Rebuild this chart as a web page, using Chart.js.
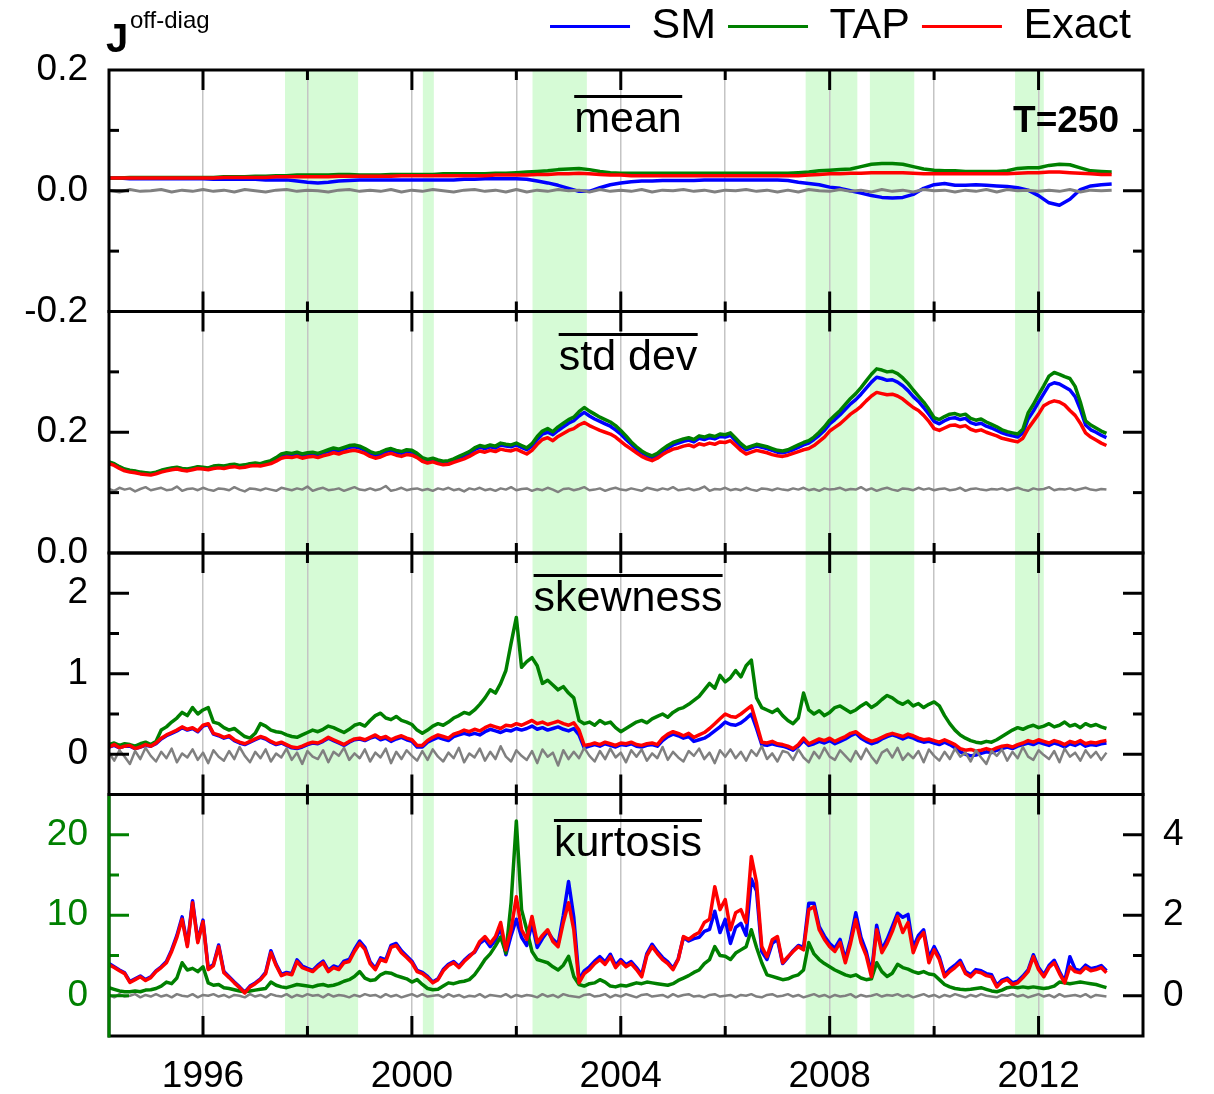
<!DOCTYPE html>
<html>
<head>
<meta charset="utf-8">
<title>J off-diag moments</title>
<script src="https://cdn.jsdelivr.net/npm/chart.js@4.4.1/dist/chart.umd.min.js"></script>
<style>
  html, body { margin: 0; padding: 0; background: #fff; }
  #wrap { position: relative; width: 1214px; height: 1094px; overflow: hidden; }
  #chart { position: absolute; left: 0; top: -7px; }
  .lbl { position: absolute; font-family: "Liberation Sans", Arial, Helvetica, sans-serif; color: #000; white-space: nowrap; line-height: normal; }
  .ttl { font-size: 43px; line-height: 39px; border-top: 3px solid #000; left: 628px; transform: translateX(-50%); }
</style>
</head>
<body>
<div id="wrap">
  <canvas id="chart" width="1214" height="1101"></canvas>
  <div class="lbl" style="left:106px; top:16px; font-size:40px; font-weight:bold;">J</div>
  <div class="lbl" style="left:130px; top:6px; font-size:24px;">off-diag</div>
  <div class="lbl" style="right:95px; top:99px; font-size:37px; font-weight:bold;">T=250</div>
  <div class="lbl ttl" style="top:95px;">mean</div>
  <div class="lbl ttl" style="top:333px;">std dev</div>
  <div class="lbl ttl" style="top:574px;">skewness</div>
  <div class="lbl ttl" style="top:819px;">kurtosis</div>
</div>
<script>
// ---- time grids (decimal years) ----
const yearsFine = Array.from({length: 192}, (_, i) => Math.round((1994.2 + i * 0.1) * 10) / 10);
const yearsCoarse = Array.from({length: 97}, (_, i) => Math.round((1994.2 + i * 0.2) * 10) / 10);

// ---- shaded crisis periods ----
const crisisStart = [1997.57, 2000.21, 2002.31, 2007.54, 2008.77, 2011.55];
const crisisEnd   = [1998.97, 2000.42, 2003.35, 2008.53, 2009.62, 2012.10];

// ---- tick marks (major = labelled, minor = short) ----
const yearMajor = [1996, 2000, 2004, 2008, 2012];
const yearMinor = [1998, 2002, 2006, 2010];
const panelTicks = {
  m: {major: [0], minor: [-0.1, 0.1]},
  s: {major: [0.2], minor: [0.1, 0.3]},
  w: {major: [0, 1, 2], minor: [0.5, 1.5]},
  k: {major: [0, 10, 20], minor: [5, 15]}
};

// ---- panel 1: mean (0.2-year grid) ----
const meanSM = [
  0.021, 0.021, 0.020, 0.020, 0.020,
  0.020, 0.020, 0.020, 0.020, 0.020,
  0.019, 0.019, 0.019, 0.019, 0.019,
  0.018, 0.018, 0.018, 0.016, 0.014,
  0.013, 0.014, 0.016, 0.017, 0.018,
  0.018, 0.018, 0.018, 0.018, 0.018,
  0.018, 0.018, 0.018, 0.018, 0.019,
  0.019, 0.020, 0.020, 0.020, 0.020,
  0.019, 0.016, 0.013, 0.009, 0.004,
  -0.001, -0.001, 0.005, 0.010, 0.013,
  0.015, 0.016, 0.016, 0.017, 0.017,
  0.017, 0.017, 0.018, 0.018, 0.018,
  0.018, 0.018, 0.018, 0.018, 0.018,
  0.017, 0.014, 0.012, 0.010, 0.006,
  0.004, 0.000, -0.004, -0.008, -0.011,
  -0.012, -0.011, -0.006, 0.004, 0.010,
  0.012, 0.009, 0.009, 0.010, 0.009,
  0.008, 0.007, 0.005, 0.001, -0.008,
  -0.020, -0.024, -0.014, 0.002, 0.008,
  0.010, 0.011
];
const meanTAP = [
  0.021, 0.021, 0.022, 0.022, 0.022,
  0.022, 0.022, 0.022, 0.022, 0.022,
  0.022, 0.023, 0.023, 0.023, 0.024,
  0.024, 0.025, 0.025, 0.026, 0.026,
  0.026, 0.026, 0.027, 0.027, 0.026,
  0.026, 0.026, 0.027, 0.027, 0.027,
  0.027, 0.027, 0.028, 0.028, 0.028,
  0.028, 0.028, 0.029, 0.029, 0.030,
  0.031, 0.032, 0.033, 0.035, 0.036,
  0.037, 0.035, 0.032, 0.030, 0.029,
  0.029, 0.029, 0.029, 0.029, 0.029,
  0.029, 0.029, 0.029, 0.029, 0.029,
  0.029, 0.029, 0.029, 0.029, 0.029,
  0.029, 0.030, 0.031, 0.033, 0.034,
  0.035, 0.036, 0.040, 0.044, 0.045,
  0.045, 0.044, 0.040, 0.036, 0.034,
  0.033, 0.033, 0.032, 0.032, 0.032,
  0.032, 0.033, 0.037, 0.038, 0.038,
  0.042, 0.044, 0.043, 0.038, 0.033,
  0.032, 0.031
];
const meanExact = [
  0.021, 0.021, 0.021, 0.021, 0.021,
  0.021, 0.021, 0.021, 0.021, 0.021,
  0.021, 0.022, 0.022, 0.022, 0.022,
  0.022, 0.023, 0.023, 0.023, 0.023,
  0.023, 0.023, 0.024, 0.024, 0.024,
  0.024, 0.024, 0.024, 0.025, 0.025,
  0.025, 0.025, 0.025, 0.025, 0.025,
  0.025, 0.025, 0.026, 0.026, 0.026,
  0.026, 0.027, 0.027, 0.028, 0.028,
  0.029, 0.028, 0.027, 0.026, 0.026,
  0.025, 0.025, 0.025, 0.025, 0.025,
  0.025, 0.025, 0.025, 0.025, 0.025,
  0.025, 0.025, 0.025, 0.025, 0.025,
  0.025, 0.025, 0.026, 0.027, 0.028,
  0.028, 0.029, 0.029, 0.030, 0.030,
  0.030, 0.030, 0.029, 0.028, 0.028,
  0.028, 0.028, 0.028, 0.028, 0.028,
  0.028, 0.028, 0.029, 0.030, 0.030,
  0.031, 0.031, 0.030, 0.029, 0.028,
  0.027, 0.027
];
const meanNull = [
  0.001, -0.002, 0.002, -0.001, 0.000,
  0.002, -0.002, 0.001, -0.001, 0.002,
  -0.001, 0.001, -0.002, 0.002, 0.000,
  -0.002, 0.001, 0.002, -0.001, 0.001,
  0.000, -0.002, 0.001, 0.002, -0.001,
  0.001, -0.001, 0.002, -0.002, 0.001,
  -0.001, 0.002, 0.000, -0.002, 0.001,
  0.002, -0.001, 0.001, -0.002, 0.002,
  -0.002, 0.001, -0.001, 0.002, 0.000,
  0.001, -0.002, 0.002, -0.001, 0.001,
  -0.001, 0.002, -0.002, 0.001, 0.000,
  0.002, -0.001, 0.001, -0.002, 0.001,
  0.000, 0.002, -0.001, 0.001, -0.002,
  0.001, -0.002, 0.002, 0.000, -0.001,
  0.002, -0.001, 0.001, -0.002, 0.002,
  -0.001, 0.001, -0.002, 0.002, 0.000,
  0.001, -0.002, 0.001, -0.001, 0.002,
  -0.002, 0.002, 0.000, 0.001, -0.001,
  0.001, -0.001, 0.002, -0.002, 0.001,
  0.000, 0.001
];

// ---- panel 2: standard deviation (0.1-year grid) ----
const stdSM = [
  0.150, 0.147, 0.142, 0.138, 0.136, 0.135, 0.133, 0.132, 0.131, 0.133,
  0.136, 0.138, 0.140, 0.141, 0.139, 0.138, 0.140, 0.142, 0.141, 0.140,
  0.143, 0.144, 0.143, 0.145, 0.146, 0.144, 0.145, 0.147, 0.148, 0.147,
  0.149, 0.151, 0.156, 0.161, 0.163, 0.162, 0.164, 0.161, 0.163, 0.164,
  0.163, 0.166, 0.168, 0.171, 0.169, 0.172, 0.175, 0.176, 0.174, 0.170,
  0.165, 0.162, 0.164, 0.168, 0.170, 0.167, 0.165, 0.168, 0.167, 0.162,
  0.156, 0.153, 0.155, 0.152, 0.150, 0.151, 0.154, 0.158, 0.161, 0.165,
  0.171, 0.175, 0.173, 0.176, 0.174, 0.179, 0.177, 0.176, 0.179, 0.175,
  0.171, 0.177, 0.188, 0.197, 0.200, 0.196, 0.203, 0.209, 0.215, 0.219,
  0.227, 0.233, 0.227, 0.222, 0.218, 0.214, 0.210, 0.204, 0.197, 0.188,
  0.180, 0.172, 0.166, 0.161, 0.158, 0.162, 0.169, 0.174, 0.179, 0.182,
  0.185, 0.187, 0.184, 0.190, 0.188, 0.191, 0.189, 0.193, 0.192, 0.195,
  0.186, 0.177, 0.171, 0.174, 0.177, 0.175, 0.173, 0.170, 0.167, 0.166,
  0.168, 0.171, 0.175, 0.179, 0.182, 0.188, 0.195, 0.203, 0.214, 0.221,
  0.229, 0.238, 0.247, 0.254, 0.263, 0.273, 0.283, 0.291, 0.289, 0.286,
  0.287, 0.283, 0.277, 0.269, 0.259, 0.251, 0.241, 0.230, 0.218, 0.214,
  0.219, 0.223, 0.224, 0.221, 0.223, 0.216, 0.213, 0.215, 0.210, 0.207,
  0.203, 0.199, 0.196, 0.194, 0.192, 0.199, 0.222, 0.235, 0.250, 0.264,
  0.278, 0.282, 0.280, 0.275, 0.270, 0.259, 0.238, 0.212, 0.204, 0.200,
  0.195, 0.191
];
const stdTAP = [
  0.151, 0.148, 0.143, 0.139, 0.137, 0.136, 0.134, 0.133, 0.132, 0.134,
  0.137, 0.139, 0.141, 0.142, 0.140, 0.139, 0.141, 0.143, 0.142, 0.141,
  0.144, 0.145, 0.144, 0.146, 0.147, 0.145, 0.146, 0.148, 0.149, 0.148,
  0.151, 0.153, 0.158, 0.164, 0.166, 0.165, 0.167, 0.164, 0.166, 0.167,
  0.165, 0.168, 0.171, 0.174, 0.172, 0.175, 0.178, 0.179, 0.177, 0.173,
  0.168, 0.165, 0.167, 0.171, 0.173, 0.170, 0.168, 0.171, 0.170, 0.165,
  0.158, 0.155, 0.157, 0.154, 0.152, 0.153, 0.156, 0.160, 0.164, 0.168,
  0.174, 0.178, 0.176, 0.179, 0.177, 0.182, 0.180, 0.179, 0.182, 0.178,
  0.174, 0.181, 0.193, 0.202, 0.206, 0.201, 0.209, 0.215, 0.221, 0.225,
  0.234, 0.241, 0.235, 0.230, 0.225, 0.221, 0.217, 0.211, 0.203, 0.194,
  0.184, 0.176, 0.169, 0.164, 0.161, 0.165, 0.172, 0.178, 0.183, 0.186,
  0.189, 0.191, 0.188, 0.194, 0.192, 0.195, 0.193, 0.197, 0.196, 0.199,
  0.190, 0.181, 0.174, 0.177, 0.180, 0.178, 0.176, 0.173, 0.170, 0.169,
  0.171, 0.175, 0.179, 0.183, 0.186, 0.192, 0.200, 0.209, 0.220, 0.228,
  0.236, 0.246, 0.256, 0.264, 0.274, 0.285, 0.296, 0.305, 0.303, 0.300,
  0.301, 0.297, 0.290, 0.281, 0.270, 0.260, 0.250, 0.238, 0.224, 0.221,
  0.226, 0.230, 0.231, 0.228, 0.230, 0.223, 0.220, 0.222, 0.217, 0.213,
  0.209, 0.204, 0.201, 0.199, 0.197, 0.205, 0.232, 0.246, 0.262, 0.277,
  0.293, 0.299, 0.296, 0.292, 0.289, 0.276, 0.250, 0.219, 0.212, 0.207,
  0.202, 0.198
];
const stdExact = [
  0.148, 0.145, 0.140, 0.136, 0.134, 0.133, 0.131, 0.130, 0.129, 0.131,
  0.134, 0.136, 0.138, 0.139, 0.137, 0.136, 0.138, 0.140, 0.139, 0.138,
  0.140, 0.141, 0.140, 0.142, 0.143, 0.141, 0.142, 0.144, 0.145, 0.144,
  0.146, 0.148, 0.152, 0.157, 0.159, 0.158, 0.160, 0.157, 0.159, 0.160,
  0.158, 0.161, 0.163, 0.166, 0.164, 0.167, 0.169, 0.170, 0.168, 0.165,
  0.160, 0.157, 0.159, 0.163, 0.165, 0.162, 0.160, 0.163, 0.162, 0.158,
  0.152, 0.149, 0.151, 0.148, 0.146, 0.147, 0.150, 0.153, 0.156, 0.160,
  0.165, 0.169, 0.167, 0.170, 0.168, 0.172, 0.170, 0.169, 0.172, 0.168,
  0.164, 0.170, 0.180, 0.188, 0.191, 0.186, 0.193, 0.198, 0.203, 0.206,
  0.212, 0.216, 0.211, 0.207, 0.203, 0.200, 0.197, 0.192, 0.185, 0.178,
  0.172, 0.166, 0.160, 0.156, 0.153, 0.157, 0.163, 0.168, 0.172, 0.174,
  0.177, 0.179, 0.176, 0.181, 0.179, 0.182, 0.180, 0.184, 0.183, 0.186,
  0.178, 0.170, 0.164, 0.167, 0.170, 0.168, 0.166, 0.163, 0.161, 0.160,
  0.162, 0.165, 0.168, 0.171, 0.173, 0.178, 0.185, 0.192, 0.202, 0.208,
  0.214, 0.222, 0.230, 0.236, 0.243, 0.252, 0.260, 0.266, 0.264, 0.262,
  0.263, 0.260, 0.255, 0.248, 0.241, 0.236, 0.228, 0.218, 0.206, 0.203,
  0.207, 0.211, 0.212, 0.209, 0.211, 0.205, 0.202, 0.204, 0.200, 0.197,
  0.194, 0.190, 0.188, 0.186, 0.184, 0.190, 0.206, 0.218, 0.230, 0.244,
  0.249, 0.252, 0.250, 0.245, 0.236, 0.228, 0.215, 0.199, 0.192, 0.187,
  0.182, 0.178
];
const stdNull = [
  0.106, 0.103, 0.108, 0.105, 0.107, 0.102, 0.106, 0.109, 0.104, 0.106,
  0.108, 0.104, 0.105, 0.110, 0.103, 0.106, 0.107, 0.104, 0.108, 0.105,
  0.103, 0.107, 0.106, 0.104, 0.109, 0.105, 0.102, 0.107, 0.106, 0.104,
  0.107, 0.105, 0.103, 0.108, 0.106, 0.104, 0.107, 0.105, 0.110, 0.103,
  0.106, 0.108, 0.104, 0.105, 0.107, 0.103, 0.106, 0.109, 0.105, 0.104,
  0.107, 0.104, 0.106, 0.111, 0.103, 0.105, 0.108, 0.104, 0.106, 0.107,
  0.104, 0.106, 0.103, 0.107, 0.105, 0.108, 0.104, 0.106, 0.102, 0.107,
  0.105, 0.108, 0.104, 0.106, 0.103, 0.107, 0.105, 0.109, 0.104, 0.106,
  0.107, 0.103, 0.106, 0.104, 0.108, 0.105, 0.101, 0.106, 0.107, 0.104,
  0.106, 0.109, 0.104, 0.105, 0.107, 0.103, 0.106, 0.108, 0.105, 0.104,
  0.107, 0.105, 0.103, 0.108, 0.106, 0.104, 0.107, 0.105, 0.109, 0.104,
  0.105, 0.107, 0.104, 0.106, 0.110, 0.103, 0.106, 0.105, 0.108, 0.104,
  0.106, 0.104, 0.108, 0.105, 0.103, 0.107, 0.106, 0.104, 0.107, 0.105,
  0.104, 0.107, 0.105, 0.108, 0.104, 0.106, 0.103, 0.107, 0.105, 0.106,
  0.108, 0.104, 0.106, 0.105, 0.109, 0.104, 0.107, 0.103, 0.106, 0.108,
  0.105, 0.103, 0.107, 0.106, 0.104, 0.108, 0.105, 0.107, 0.104, 0.106,
  0.107, 0.104, 0.105, 0.108, 0.103, 0.106, 0.107, 0.105, 0.104, 0.106,
  0.105, 0.107, 0.104, 0.106, 0.108, 0.105, 0.103, 0.107, 0.105, 0.106,
  0.109, 0.104, 0.106, 0.105, 0.107, 0.104, 0.106, 0.108, 0.105, 0.104,
  0.106, 0.105
];

// ---- panel 3: skewness (0.1-year grid) ----
const skewSM = [
  0.09, 0.11, 0.08, 0.10, 0.10, 0.07, 0.09, 0.11, 0.10, 0.13,
  0.19, 0.23, 0.26, 0.29, 0.33, 0.30, 0.32, 0.28, 0.35, 0.37,
  0.25, 0.23, 0.20, 0.22, 0.17, 0.14, 0.12, 0.15, 0.18, 0.21,
  0.19, 0.15, 0.12, 0.14, 0.11, 0.08, 0.07, 0.09, 0.12, 0.14,
  0.13, 0.16, 0.20, 0.17, 0.14, 0.11, 0.15, 0.18, 0.19, 0.17,
  0.20, 0.22, 0.18, 0.20, 0.16, 0.19, 0.21, 0.18, 0.16, 0.09,
  0.09, 0.15, 0.18, 0.21, 0.19, 0.17, 0.22, 0.24, 0.26, 0.24,
  0.26, 0.24, 0.28, 0.31, 0.29, 0.27, 0.30, 0.29, 0.32, 0.30,
  0.32, 0.35, 0.31, 0.33, 0.30, 0.32, 0.34, 0.31, 0.29, 0.32,
  0.24, 0.08, 0.10, 0.12, 0.10, 0.13, 0.11, 0.09, 0.12, 0.11,
  0.13, 0.10, 0.09, 0.11, 0.12, 0.10, 0.17, 0.22, 0.25, 0.23,
  0.20, 0.22, 0.16, 0.18, 0.20, 0.24, 0.29, 0.34, 0.40, 0.37,
  0.36, 0.39, 0.44, 0.50, 0.32, 0.12, 0.11, 0.13, 0.11, 0.10,
  0.08, 0.05, 0.10, 0.17, 0.11, 0.13, 0.16, 0.14, 0.17, 0.13,
  0.16, 0.19, 0.23, 0.26, 0.20, 0.16, 0.13, 0.15, 0.19, 0.22,
  0.24, 0.22, 0.19, 0.22, 0.20, 0.17, 0.15, 0.16, 0.14, 0.12,
  0.15, 0.12, 0.08, 0.03, 0.00, -0.02, -0.01, 0.01, 0.03, 0.02,
  0.05, 0.07, 0.09, 0.07, 0.10, 0.12, 0.14, 0.12, 0.15, 0.13,
  0.11, 0.14, 0.12, 0.09, 0.13, 0.11, 0.14, 0.10, 0.12, 0.11,
  0.13, 0.14
];
const skewTAP = [
  0.12, 0.14, 0.11, 0.13, 0.12, 0.10, 0.13, 0.15, 0.12, 0.16,
  0.30, 0.34, 0.40, 0.45, 0.52, 0.48, 0.58, 0.50, 0.55, 0.58,
  0.40, 0.38, 0.33, 0.30, 0.32, 0.27, 0.22, 0.20, 0.26, 0.38,
  0.35, 0.30, 0.28, 0.27, 0.24, 0.22, 0.21, 0.24, 0.27, 0.30,
  0.28, 0.31, 0.35, 0.33, 0.30, 0.27, 0.31, 0.36, 0.38, 0.35,
  0.42, 0.48, 0.51, 0.45, 0.43, 0.47, 0.42, 0.40, 0.37, 0.30,
  0.26, 0.30, 0.35, 0.38, 0.36, 0.40, 0.45, 0.48, 0.52, 0.50,
  0.55, 0.62, 0.70, 0.80, 0.76, 0.88, 1.04, 1.38, 1.70, 1.08,
  1.15, 1.20, 1.10, 0.88, 0.92, 0.86, 0.80, 0.84, 0.76, 0.70,
  0.42, 0.38, 0.40, 0.36, 0.42, 0.38, 0.40, 0.33, 0.28, 0.32,
  0.36, 0.40, 0.42, 0.39, 0.44, 0.47, 0.50, 0.46, 0.52, 0.56,
  0.58, 0.62, 0.67, 0.72, 0.80, 0.88, 0.82, 0.98, 0.90, 0.95,
  1.04, 0.96, 1.10, 1.17, 0.70, 0.58, 0.55, 0.52, 0.56, 0.48,
  0.42, 0.38, 0.45, 0.76, 0.55, 0.50, 0.54, 0.48, 0.52, 0.58,
  0.60, 0.56, 0.52, 0.55, 0.60, 0.64, 0.58, 0.62, 0.68, 0.73,
  0.70, 0.65, 0.62, 0.66, 0.60, 0.63, 0.58, 0.62, 0.65, 0.60,
  0.48, 0.38, 0.30, 0.24, 0.20, 0.17, 0.15, 0.14, 0.16, 0.15,
  0.18, 0.22, 0.26, 0.30, 0.33, 0.31, 0.34, 0.36, 0.33, 0.35,
  0.38, 0.34, 0.36, 0.40, 0.35, 0.37, 0.33, 0.38, 0.35, 0.37,
  0.34, 0.32
];
const skewExact = [
  0.09, 0.12, 0.08, 0.10, 0.11, 0.07, 0.09, 0.12, 0.10, 0.14,
  0.20, 0.24, 0.27, 0.30, 0.34, 0.31, 0.33, 0.29, 0.36, 0.38,
  0.26, 0.24, 0.21, 0.23, 0.18, 0.15, 0.13, 0.16, 0.19, 0.22,
  0.20, 0.16, 0.13, 0.15, 0.12, 0.09, 0.08, 0.10, 0.13, 0.15,
  0.14, 0.17, 0.21, 0.18, 0.15, 0.12, 0.16, 0.19, 0.20, 0.18,
  0.21, 0.24, 0.20, 0.22, 0.18, 0.21, 0.23, 0.20, 0.18, 0.11,
  0.11, 0.17, 0.21, 0.24, 0.22, 0.20, 0.25, 0.27, 0.30, 0.28,
  0.31, 0.29, 0.33, 0.36, 0.34, 0.32, 0.36, 0.35, 0.38, 0.36,
  0.39, 0.42, 0.38, 0.40, 0.37, 0.39, 0.41, 0.38, 0.36, 0.39,
  0.30, 0.11, 0.12, 0.14, 0.12, 0.15, 0.13, 0.11, 0.14, 0.13,
  0.15, 0.12, 0.11, 0.13, 0.14, 0.12, 0.20, 0.25, 0.28, 0.26,
  0.23, 0.26, 0.21, 0.24, 0.27, 0.32, 0.38, 0.44, 0.50, 0.47,
  0.46, 0.50, 0.55, 0.60, 0.38, 0.15, 0.14, 0.16, 0.13, 0.12,
  0.10, 0.07, 0.12, 0.20, 0.13, 0.16, 0.19, 0.17, 0.20, 0.16,
  0.19, 0.22, 0.26, 0.28, 0.23, 0.19, 0.16, 0.18, 0.21, 0.24,
  0.26, 0.24, 0.22, 0.25, 0.23, 0.20, 0.18, 0.19, 0.17, 0.15,
  0.18, 0.15, 0.12, 0.07, 0.05, 0.06, 0.04, 0.05, 0.07, 0.05,
  0.08, 0.10, 0.11, 0.09, 0.12, 0.14, 0.17, 0.15, 0.18, 0.16,
  0.14, 0.17, 0.15, 0.12, 0.16, 0.14, 0.17, 0.13, 0.15, 0.14,
  0.16, 0.17
];
const skewNull = [
  0.02, -0.08, 0.05, -0.03, -0.12, 0.04, -0.06, 0.08, -0.02, -0.09,
  0.03, -0.05, 0.07, -0.10, 0.01, -0.04, 0.06, -0.07, 0.02, -0.11,
  0.05, -0.03, -0.08, 0.04, -0.06, 0.09, -0.02, -0.10, 0.03, -0.05,
  0.06, -0.09, 0.01, -0.04, 0.07, -0.07, 0.02, -0.12, 0.04, -0.03,
  -0.06, 0.05, -0.10, 0.03, -0.02, 0.08, -0.07, 0.01, -0.05, 0.06,
  -0.09, 0.02, -0.04, 0.07, -0.11, 0.03, -0.06, 0.05, -0.02, -0.08,
  0.04, -0.07, 0.06, -0.03, -0.09, 0.02, -0.05, 0.08, -0.10, 0.01,
  -0.04, 0.07, -0.08, 0.03, -0.06, 0.10, -0.03, -0.09, 0.05, -0.02,
  -0.07, 0.04, -0.11, 0.06, -0.03, 0.02, -0.14, 0.05, -0.06, 0.03,
  -0.05, 0.08, -0.02, -0.09, 0.04, -0.06, 0.07, -0.04, 0.02, -0.10,
  0.05, -0.03, 0.06, -0.08, 0.01, -0.05, 0.09, -0.07, 0.03, -0.04,
  -0.09, 0.04, -0.02, 0.07, -0.06, 0.02, -0.11, 0.05, -0.03, 0.06,
  -0.05, 0.03, -0.08, 0.05, -0.02, 0.10, -0.06, 0.01, -0.09, 0.04,
  0.02, -0.07, 0.06, -0.04, -0.10, 0.03, -0.05, 0.08, -0.03, -0.07,
  0.05, -0.02, -0.09, 0.04, -0.06, 0.07, -0.03, -0.11, 0.02, 0.06,
  -0.04, 0.08, -0.07, 0.01, -0.05, 0.04, -0.10, 0.06, -0.02, -0.08,
  0.03, -0.06, 0.07, -0.03, 0.02, -0.09, 0.05, -0.04, -0.12, 0.04,
  -0.02, 0.06, -0.08, 0.03, -0.05, 0.09, -0.03, -0.07, 0.05, -0.01,
  -0.06, 0.04, -0.10, 0.07, -0.03, 0.02, -0.08, 0.05, -0.04, 0.03,
  -0.07, 0.02
];

// ---- panel 4: kurtosis (0.1-year grid); TAP on the left axis, SM/Exact on the right axis ----
const kurtSM = [
  0.80, 0.72, 0.64, 0.57, 0.35, 0.42, 0.49, 0.40, 0.47, 0.62,
  0.72, 0.85, 1.14, 1.50, 1.96, 1.26, 2.36, 1.36, 1.88, 0.68,
  0.78, 1.26, 0.60, 0.47, 0.34, 0.22, 0.09, 0.24, 0.32, 0.42,
  0.58, 1.12, 0.78, 0.53, 0.58, 0.55, 0.89, 0.74, 0.68, 0.63,
  0.76, 0.86, 0.63, 0.74, 0.69, 0.86, 0.90, 1.15, 1.36, 1.20,
  0.84, 0.68, 0.94, 0.89, 1.25, 1.30, 1.12, 0.99, 0.86, 0.63,
  0.58, 0.48, 0.34, 0.42, 0.65, 0.78, 0.85, 0.73, 0.88, 1.00,
  1.08, 1.30, 1.40, 1.22, 1.38, 1.70, 1.02, 1.50, 1.90, 1.45,
  1.25, 1.80, 1.20, 1.42, 1.60, 1.40, 1.28, 2.00, 2.84, 1.95,
  0.40, 0.62, 0.72, 0.86, 0.97, 0.84, 1.03, 0.76, 0.90, 0.77,
  0.85, 0.70, 0.52, 1.05, 1.28, 1.10, 0.95, 0.84, 0.68, 0.92,
  1.45, 1.36, 1.42, 1.45, 1.60, 1.65, 2.10, 1.57, 1.90, 1.30,
  1.70, 1.80, 1.50, 2.90, 2.60, 1.10, 0.90, 1.30, 1.40, 0.80,
  0.95, 1.12, 1.25, 1.20, 2.30, 2.30, 1.72, 1.48, 1.30, 1.18,
  1.40, 0.90, 1.40, 2.06, 1.45, 1.10, 0.55, 1.75, 1.15, 1.40,
  1.72, 2.05, 1.95, 2.02, 1.20, 1.50, 1.64, 0.95, 1.22, 0.97,
  0.52, 0.66, 0.76, 0.88, 0.60, 0.52, 0.65, 0.62, 0.55, 0.52,
  0.26, 0.39, 0.44, 0.32, 0.36, 0.49, 0.64, 1.02, 0.70, 0.52,
  0.75, 0.88, 0.60, 0.36, 0.97, 0.66, 0.62, 0.76, 0.67, 0.70,
  0.75, 0.62
];
const kurtTAP = [
  1.0, 0.8, 0.6, 0.5, 0.5, 0.6, 0.5, 0.7, 0.75, 0.9,
  1.2, 1.7, 1.5, 2.2, 4.1, 3.2, 3.4, 3.0, 3.6, 1.6,
  1.3, 1.4, 1.0, 0.9, 0.75, 0.6, 0.5, 0.6, 0.7, 0.8,
  0.9, 1.7, 1.3, 1.1, 1.0, 1.2, 1.4, 1.3, 1.2, 1.1,
  1.3, 1.4, 1.2, 1.3, 1.5, 1.8, 2.0, 2.4, 3.0, 2.2,
  1.9, 2.0, 2.6, 2.9, 2.8, 2.5, 2.3, 2.1, 1.7, 2.0,
  1.4, 0.9, 0.75, 0.8, 1.2, 1.6, 1.5, 1.7, 1.8, 2.0,
  2.6, 3.5, 4.5, 5.2, 6.2, 7.3, 5.3, 11.6, 21.7, 10.7,
  8.2, 5.5, 4.5, 4.3, 4.1, 3.6, 3.2, 3.8, 4.9, 2.4,
  1.4, 1.2, 1.5, 1.6, 2.0, 1.7, 1.2, 1.1, 1.3, 1.2,
  1.4, 1.6, 1.5, 1.7, 1.6, 1.5, 1.4, 1.3, 1.5, 1.9,
  2.2, 2.5, 2.9, 3.2, 4.0, 4.5, 6.1, 5.0, 4.9, 4.5,
  5.3, 5.7, 6.1, 8.2, 6.0, 4.1, 2.6, 2.4, 2.2, 2.0,
  2.1, 2.4, 2.6, 3.2, 6.6, 5.2, 4.5, 4.0, 3.6, 3.2,
  2.9, 2.6, 2.4, 2.6, 2.2, 2.0, 2.1, 4.1, 3.0, 2.4,
  2.8, 3.9, 3.5, 3.3, 3.0, 2.8, 3.0, 2.7, 2.6, 2.0,
  1.4, 1.1, 0.9, 0.8, 0.75, 0.8, 0.9, 1.0, 0.8, 0.6,
  0.5, 0.7, 1.0, 1.1, 1.0, 1.1, 1.0, 1.1, 1.0, 0.9,
  1.0, 1.2, 1.7, 1.6, 1.5, 1.6, 1.7, 1.6, 1.5, 1.4,
  1.2, 1.0
];
const kurtExact = [
  0.77, 0.70, 0.62, 0.55, 0.33, 0.40, 0.47, 0.38, 0.45, 0.60,
  0.70, 0.82, 1.10, 1.45, 1.90, 1.22, 2.31, 1.32, 1.84, 0.65,
  0.75, 1.22, 0.57, 0.45, 0.32, 0.20, 0.07, 0.22, 0.30, 0.40,
  0.55, 1.07, 0.75, 0.50, 0.55, 0.52, 0.85, 0.70, 0.65, 0.60,
  0.72, 0.82, 0.60, 0.70, 0.65, 0.82, 0.85, 1.10, 1.30, 1.15,
  0.80, 0.65, 0.90, 0.85, 1.20, 1.25, 1.07, 0.95, 0.82, 0.60,
  0.55, 0.45, 0.32, 0.40, 0.62, 0.75, 0.82, 0.70, 0.85, 0.97,
  1.10, 1.35, 1.47, 1.30, 1.47, 1.82, 1.14, 1.64, 2.46, 1.64,
  1.40, 1.97, 1.32, 1.50, 1.64, 1.35, 1.22, 1.82, 2.31, 1.64,
  0.32, 0.55, 0.65, 0.80, 0.90, 0.78, 0.97, 0.70, 0.85, 0.72,
  0.80, 0.65, 0.47, 1.00, 1.22, 1.05, 0.90, 0.80, 0.65, 0.90,
  1.47, 1.40, 1.50, 1.57, 1.82, 1.90, 2.71, 2.14, 2.39, 1.64,
  2.06, 2.14, 1.82, 3.46, 2.81, 1.22, 0.97, 1.39, 1.47, 0.82,
  0.97, 1.10, 1.22, 1.14, 2.14, 2.21, 1.64, 1.40, 1.22, 1.10,
  1.32, 0.82, 1.30, 1.89, 1.32, 1.00, 0.47, 1.64, 1.07, 1.30,
  1.60, 1.97, 1.57, 1.82, 1.07, 1.40, 1.57, 0.82, 1.14, 0.90,
  0.47, 0.60, 0.70, 0.82, 0.55, 0.47, 0.60, 0.57, 0.50, 0.47,
  0.22, 0.35, 0.40, 0.28, 0.32, 0.45, 0.60, 0.97, 0.65, 0.47,
  0.70, 0.82, 0.55, 0.32, 0.72, 0.60, 0.57, 0.70, 0.62, 0.65,
  0.70, 0.57
];
const kurtNull = [
  0.1, -0.2, 0.2, -0.1, 0.0, 0.2, -0.2, 0.1, -0.1, 0.2,
  -0.1, 0.1, -0.2, 0.2, 0.0, -0.1, 0.2, -0.2, 0.1, 0.0,
  0.2, -0.1, 0.1, -0.2, 0.1, 0.0, -0.2, 0.2, -0.1, 0.1,
  -0.2, 0.2, 0.0, -0.1, 0.2, -0.2, 0.1, -0.1, 0.2, 0.0,
  0.1, -0.2, 0.2, -0.1, 0.1, 0.0, -0.2, 0.1, -0.1, 0.2,
  0.0, 0.1, -0.2, 0.2, -0.1, 0.1, -0.2, 0.0, 0.2, -0.1,
  0.2, -0.1, 0.0, 0.1, -0.2, 0.2, -0.1, 0.1, -0.2, 0.0,
  -0.1, 0.2, -0.2, 0.1, 0.0, -0.1, 0.2, -0.2, 0.1, -0.1,
  0.1, 0.0, -0.2, 0.2, -0.1, 0.1, -0.2, 0.2, 0.0, -0.1,
  -0.2, 0.1, 0.2, -0.1, 0.0, 0.2, -0.2, 0.1, -0.1, 0.2,
  0.0, -0.2, 0.1, 0.2, -0.1, 0.0, 0.1, -0.2, 0.2, -0.1,
  0.1, 0.2, -0.1, 0.0, -0.2, 0.1, 0.2, -0.1, 0.0, 0.1,
  -0.2, 0.1, 0.0, 0.2, -0.1, -0.2, 0.1, 0.2, -0.1, 0.0,
  0.2, -0.1, 0.1, -0.2, 0.0, 0.2, -0.1, 0.1, -0.2, 0.1,
  -0.1, 0.0, 0.2, -0.2, 0.1, -0.1, 0.0, 0.2, -0.1, 0.1,
  0.0, 0.2, -0.1, 0.1, -0.2, 0.0, 0.2, -0.1, 0.1, -0.2,
  0.1, -0.1, 0.2, 0.0, -0.2, 0.1, -0.1, 0.2, 0.0, -0.1,
  -0.2, 0.1, 0.0, 0.2, -0.1, 0.1, -0.2, 0.0, 0.2, -0.1,
  0.1, -0.2, 0.2, -0.1, 0.0, 0.1, -0.1, 0.2, -0.2, 0.1,
  0.0, -0.1
];

// ---- styling ----
const FONT = '"Liberation Sans", Arial, Helvetica, sans-serif';
const BLUE = '#0000ff', GREEN = '#008000', RED = '#ff0000', GRAY = '#808080';
const SHADE = '#d6fbd6';
const GRID = '#c4c4c4';
const LINE_W = 3.5;

Chart.defaults.font.family = FONT;
Chart.defaults.color = '#000';

const toPoints = (t, v) => v.map((y, i) => ({x: t[i], y}));
const isStep = (v, s) => Math.abs(v / s - Math.round(v / s)) < 1e-6;

function series(label, color, width, axis, t, values, order) {
  return {
    label, data: toPoints(t, values), yAxisID: axis, xAxisID: 'x',
    borderColor: color, backgroundColor: color, borderWidth: width,
    pointRadius: 0, pointHoverRadius: 0, tension: 0, order,
    borderJoinStyle: 'round'
  };
}

const datasets = [
  series('SM', BLUE, LINE_W, 'm', yearsCoarse, meanSM, 3),
  series('TAP', GREEN, LINE_W, 'm', yearsCoarse, meanTAP, 2),
  series('Exact', RED, LINE_W, 'm', yearsCoarse, meanExact, 1),
  series('null mean', GRAY, 3, 'm', yearsCoarse, meanNull, 0),

  series('SM std dev', BLUE, LINE_W, 's', yearsFine, stdSM, 3),
  series('TAP std dev', GREEN, LINE_W, 's', yearsFine, stdTAP, 2),
  series('Exact std dev', RED, LINE_W, 's', yearsFine, stdExact, 1),
  series('null std dev', GRAY, 2.5, 's', yearsFine, stdNull, 0),

  series('SM skewness', BLUE, LINE_W, 'w', yearsFine, skewSM, 3),
  series('TAP skewness', GREEN, LINE_W, 'w', yearsFine, skewTAP, 2),
  series('Exact skewness', RED, LINE_W, 'w', yearsFine, skewExact, 1),
  series('null skewness', GRAY, 2.5, 'w', yearsFine, skewNull, 0),

  series('SM kurtosis', BLUE, LINE_W, 'r4', yearsFine, kurtSM, 3),
  series('TAP kurtosis', GREEN, LINE_W, 'k', yearsFine, kurtTAP, 2),
  series('Exact kurtosis', RED, LINE_W, 'r4', yearsFine, kurtExact, 1),
  series('null kurtosis', GRAY, 2.5, 'k', yearsFine, kurtNull, 0)
];

const tickFont = {size: 37, family: FONT};
const noGrid = {display: false, drawTicks: false};

function leftPanel(weight, min, max, step, label, color) {
  return {
    type: 'linear', position: 'left', stack: 'L', stackWeight: 1, weight,
    min, max,
    ticks: {stepSize: step, maxTicksLimit: 50, autoSkip: false, padding: 21, font: tickFont, color: color || '#000', callback: label},
    grid: noGrid, border: {display: false},
    afterFit: s => { s.width = 109; }
  };
}
function rightPanel(weight, min, max, step, label) {
  return {
    type: 'linear', position: 'right', stack: 'R', stackWeight: 1, weight,
    min, max,
    ticks: label ? {stepSize: step, maxTicksLimit: 50, autoSkip: false, padding: 20, font: tickFont, color: '#000', callback: label}
                 : {display: false},
    grid: noGrid, border: {display: false},
    afterFit: s => { s.width = 71; }
  };
}

const panelIds = ['m', 's', 'w', 'k'];

// shading behind everything; frames and inward tick marks over the plot
const panelFrames = {
  id: 'panelFrames',
  beforeDraw(chart) {
    const {ctx, chartArea: a, scales: {x}} = chart;
    ctx.save();
    ctx.fillStyle = SHADE;
    crisisStart.forEach((s, i) => {
      const x0 = x.getPixelForValue(s), x1 = x.getPixelForValue(crisisEnd[i]);
      ctx.fillRect(x0, a.top, x1 - x0, a.bottom - a.top);
    });
    ctx.restore();
  },
  afterDatasetsDraw(chart) {
    const {ctx, chartArea: a, scales} = chart;
    const x = scales.x;
    const seg = (x0, y0, x1, y1) => { ctx.beginPath(); ctx.moveTo(x0, y0); ctx.lineTo(x1, y1); ctx.stroke(); };
    ctx.save();
    ctx.lineWidth = 3;
    ctx.lineCap = 'butt';
    panelIds.forEach(id => {
      const sc = scales[id];
      const marks = panelTicks[id];
      [[marks.major, 20], [marks.minor, 10]].forEach(([vals, len]) => {
        vals.forEach(v => {
          const py = sc.getPixelForValue(v);
          ctx.strokeStyle = id === 'k' ? GREEN : '#000';
          seg(a.left, py, a.left + len, py);
          ctx.strokeStyle = '#000';
          seg(a.right, py, a.right - len, py);
        });
      });
      ctx.strokeStyle = '#000';
      [[yearMajor, 20], [yearMinor, 10]].forEach(([vals, len]) => {
        vals.forEach(v => {
          const px = x.getPixelForValue(v);
          seg(px, sc.top, px, sc.top + len);
          seg(px, sc.bottom, px, sc.bottom - len);
        });
      });
      ctx.strokeRect(a.left, sc.top, a.right - a.left, sc.bottom - sc.top);
    });
    const k = scales.k;
    ctx.strokeStyle = GREEN;
    seg(a.left, k.top + 1.5, a.left, k.bottom + 1.5);
    ctx.restore();
  }
};

new Chart(document.getElementById('chart'), {
  type: 'line',
  data: {datasets},
  plugins: [panelFrames],
  options: {
    responsive: false,
    animation: false,
    devicePixelRatio: 1,
    events: [],
    layout: {padding: 0},
    plugins: {
      tooltip: {enabled: false},
      legend: {
        display: true, position: 'top', align: 'end', fullSize: false,
        labels: {
          font: {size: 43, family: FONT}, color: '#000',
          boxWidth: 80, boxHeight: 3, padding: 12,
          generateLabels: chart => Chart.defaults.plugins.legend.labels.generateLabels(chart)
            .filter(item => item.datasetIndex < 3)
            .sort((p, q) => p.datasetIndex - q.datasetIndex)
            .map(item => Object.assign(item, {lineWidth: 0}))
        }
      }
    },
    scales: {
      x: {
        type: 'linear', position: 'bottom', min: 1994.2, max: 2014,
        ticks: {
          stepSize: 2, maxTicksLimit: 50, autoSkip: false, includeBounds: false,
          maxRotation: 0, minRotation: 0,
          padding: 19, font: tickFont, color: '#000',
          callback: v => (v % 4 === 0 ? String(v) : '')
        },
        grid: {
          drawTicks: false, lineWidth: 1.5,
          color: c => (c.tick && c.tick.value % 2 === 0 && c.tick.value > 1995 && c.tick.value < 2013.5) ? GRID : 'rgba(0,0,0,0)'
        },
        border: {display: false},
        afterFit: s => { s.height = 58; }
      },
      xTop: {
        type: 'linear', position: 'top', min: 0, max: 1,
        ticks: {display: false}, grid: noGrid, border: {display: false},
        afterFit: s => { s.height = 12; }
      },
      m: leftPanel(4, -0.2, 0.2, 0.1, v => isStep(v, 0.2) ? (Math.abs(v) < 1e-9 ? '0.0' : v.toFixed(1)) : ''),
      s: leftPanel(3, 0, 0.4, 0.1, v => (isStep(v, 0.2) && v < 0.3) ? (Math.abs(v) < 1e-9 ? '0.0' : v.toFixed(1)) : ''),
      w: leftPanel(2, -0.5, 2.5, 0.5, v => (isStep(v, 1) && v > -0.1) ? String(Math.round(v)) : ''),
      k: leftPanel(1, -5, 25, 5, v => (isStep(v, 10) && v > -1) ? String(Math.round(v)) : '', GREEN),
      r1: rightPanel(1, 0, 1, 1, null),
      r2: rightPanel(2, 0, 1, 1, null),
      r3: rightPanel(3, 0, 1, 1, null),
      r4: rightPanel(4, -1, 5, 1, v => (isStep(v, 2) && v > -0.1) ? String(Math.round(v)) : '')
    }
  }
});
</script>
</body>
</html>
